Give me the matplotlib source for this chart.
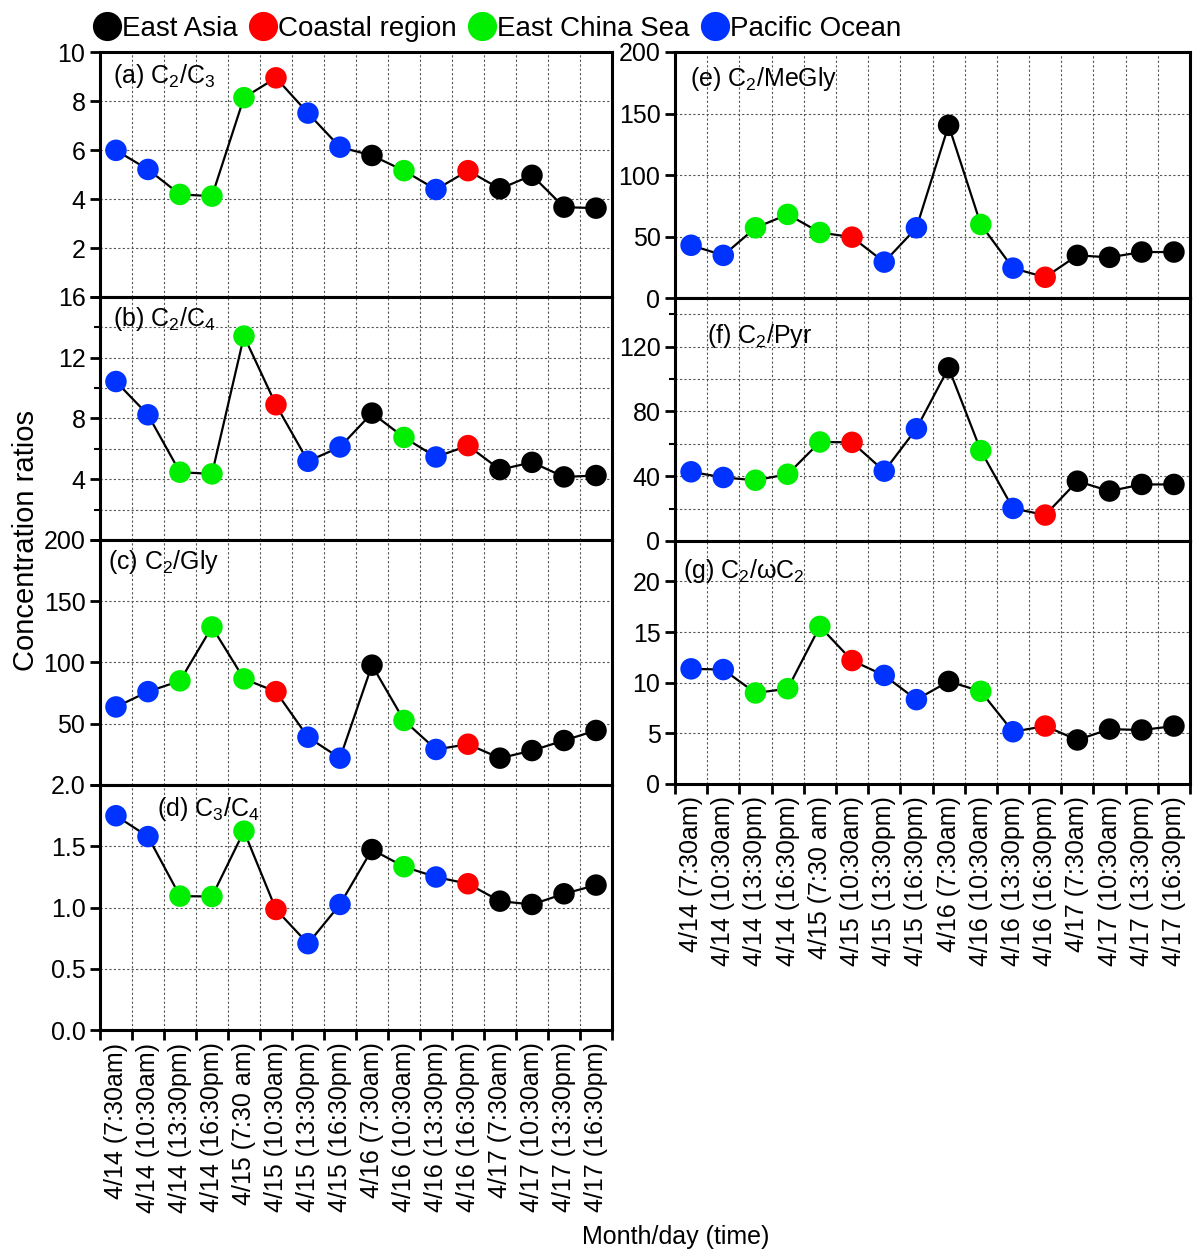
"""Time series of dicarboxylic acid concentration ratios over 4/14-4/17."""

import matplotlib

matplotlib.use("Agg")

import matplotlib.pyplot as plt
from matplotlib.lines import Line2D
from matplotlib.ticker import MultipleLocator

plt.rcParams["font.family"] = ["Liberation Sans", "DejaVu Sans"]
plt.rcParams["mathtext.fontset"] = "custom"
plt.rcParams["mathtext.rm"] = "Liberation Sans"
plt.rcParams["mathtext.it"] = "Liberation Sans:italic"

times = [
    "4/14 (7:30am)", "4/14 (10:30am)", "4/14 (13:30pm)", "4/14 (16:30pm)",
    "4/15 (7:30 am)", "4/15 (10:30am)", "4/15 (13:30pm)", "4/15 (16:30pm)",
    "4/16 (7:30am)", "4/16 (10:30am)", "4/16 (13:30pm)", "4/16 (16:30pm)",
    "4/17 (7:30am)", "4/17 (10:30am)", "4/17 (13:30pm)", "4/17 (16:30pm)",
]

# air mass origin of each sample
regions = [
    "Pacific Ocean", "Pacific Ocean", "East China Sea", "East China Sea",
    "East China Sea", "Coastal region", "Pacific Ocean", "Pacific Ocean",
    "East Asia", "East China Sea", "Pacific Ocean", "Coastal region",
    "East Asia", "East Asia", "East Asia", "East Asia",
]

region_colors = {
    "East Asia": "#000000",
    "Coastal region": "#ff0000",
    "East China Sea": "#00ee00",
    "Pacific Ocean": "#0033ff",
}

c2_c3 = [5.99, 5.21, 4.19, 4.12, 8.14, 8.95, 7.51, 6.12,
         5.78, 5.16, 4.39, 5.16, 4.42, 4.97, 3.67, 3.63]
c2_c4 = [10.43, 8.24, 4.46, 4.35, 13.42, 8.9, 5.18, 6.12,
         8.35, 6.75, 5.46, 6.21, 4.63, 5.11, 4.15, 4.24]
c2_gly = [63.7, 76.2, 85.0, 129.0, 86.6, 76.2, 39.0, 21.9,
          97.8, 52.7, 29.0, 33.3, 21.9, 28.1, 36.3, 44.5]
c3_c4 = [1.749, 1.579, 1.093, 1.09, 1.623, 0.984, 0.705, 1.025,
         1.473, 1.333, 1.249, 1.194, 1.052, 1.025, 1.112, 1.183]
c2_megly = [42.9, 34.7, 57.1, 68.0, 53.3, 49.5, 29.2, 57.1,
            140.4, 59.8, 24.3, 16.9, 34.7, 33.1, 37.4, 37.4]
c2_pyr = [42.7, 39.2, 37.5, 41.2, 61.1, 60.9, 43.1, 69.3,
          106.9, 55.8, 20.1, 16.0, 36.9, 30.8, 34.9, 34.9]
c2_wc2 = [11.37, 11.3, 8.99, 9.41, 15.56, 12.19, 10.72, 8.33,
          10.13, 9.15, 5.16, 5.72, 4.35, 5.42, 5.33, 5.72]

# (series, label, ymax, major step, minor step, label x, label y, axes rect)
panels = [
    (c2_c3, "(a) C$_2$/C$_3$", 10, 2, 2, 0.025, 0.96, [0.0833, 0.7635, 0.4267, 0.195]),
    (c2_c4, "(b) C$_2$/C$_4$", 16, 4, 2, 0.025, 0.967, [0.0833, 0.5701, 0.4267, 0.1935]),
    (c2_gly, "(c) C$_2$/Gly", 200, 50, 50, 0.016, 0.967, [0.0833, 0.375, 0.4267, 0.1951]),
    (c3_c4, "(d) C$_3$/C$_4$", 2.0, 0.5, 0.5, 0.111, 0.96, [0.0833, 0.1799, 0.4267, 0.1951]),
    (c2_megly, "(e) C$_2$/MeGly", 200, 50, 50, 0.029, 0.947, [0.5625, 0.7627, 0.4292, 0.1959]),
    (c2_pyr, "(f) C$_2$/Pyr", 150, 40, 20, 0.062, 0.90, [0.5625, 0.5693, 0.4292, 0.1934]),
    (c2_wc2, "(g) C$_2$/ωC$_2$", 24, 5, 5, 0.016, 0.934, [0.5625, 0.3758, 0.4292, 0.1935]),
]

# the stacked left panels hide their zero label under the panel below
hide_zero = {0, 1, 2}

fig = plt.figure(figsize=(12, 12.56), dpi=100)
x = list(range(len(times)))
colors = [region_colors[r] for r in regions]

for i, (vals, label, ymax, major, minor, lx, ly, rect) in enumerate(panels):
    ax = fig.add_axes(rect)
    ax.plot(x, vals, color="black", linewidth=1.6, zorder=2)
    ax.scatter(x, vals, c=colors, s=240, linewidths=0, zorder=3)
    ax.set_xlim(-0.5, len(times) - 0.5)
    ax.set_ylim(0, ymax)
    ax.yaxis.set_major_locator(MultipleLocator(major))
    ax.yaxis.set_minor_locator(MultipleLocator(minor))
    fmt = "{:.1f}" if ymax == 2.0 else "{:g}"
    skip = i in hide_zero
    ax.yaxis.set_major_formatter(
        lambda v, pos, fmt=fmt, skip=skip: "" if (skip and abs(v) < 1e-9) else fmt.format(v)
    )
    # boundaries between samples carry the ticks and vertical grid
    ax.set_xticks([k - 0.5 for k in range(len(times) + 1)])
    ax.set_xticklabels([])
    ax.grid(True, which="major", axis="x", linestyle=(0, (2, 2)), color="#555555", linewidth=0.8)
    ax.grid(True, which="both", axis="y", linestyle=(0, (2, 2)), color="#555555", linewidth=0.8)
    ax.set_axisbelow(True)
    ax.tick_params(axis="both", which="major", direction="out", length=7, width=2, labelsize=18)
    ax.tick_params(axis="y", which="minor", direction="out", length=4, width=1.5)
    ax.tick_params(axis="x", which="minor", length=0)
    for sp in ax.spines.values():
        sp.set_linewidth(2.2)
    ax.text(lx, ly, label, transform=ax.transAxes, fontsize=18, ha="left", va="top")
    if i in (3, 6):
        ax.set_xticks(x, minor=True)
        ax.set_xticklabels(times, minor=True, rotation=90, fontsize=18)
        ax.tick_params(axis="x", which="minor", pad=9)

fig.text(0.010, 0.57, "Concentration ratios", rotation=90, fontsize=21, ha="left", va="center")
fig.text(0.563, 0.015, "Month/day (time)", fontsize=18, ha="center", va="center")

handles = [
    Line2D([], [], linestyle="none", marker="o", markersize=21,
           markerfacecolor=c, markeredgewidth=0)
    for c in region_colors.values()
]
fig.legend(handles, list(region_colors.keys()), ncol=4, loc="center left",
           bbox_to_anchor=(0.080, 0.977), frameon=False, fontsize=20,
           handlelength=0.8, handletextpad=0.15, columnspacing=0.5,
           borderpad=0, borderaxespad=0)

fig.savefig("out.png", dpi=100)
plt.close(fig)
